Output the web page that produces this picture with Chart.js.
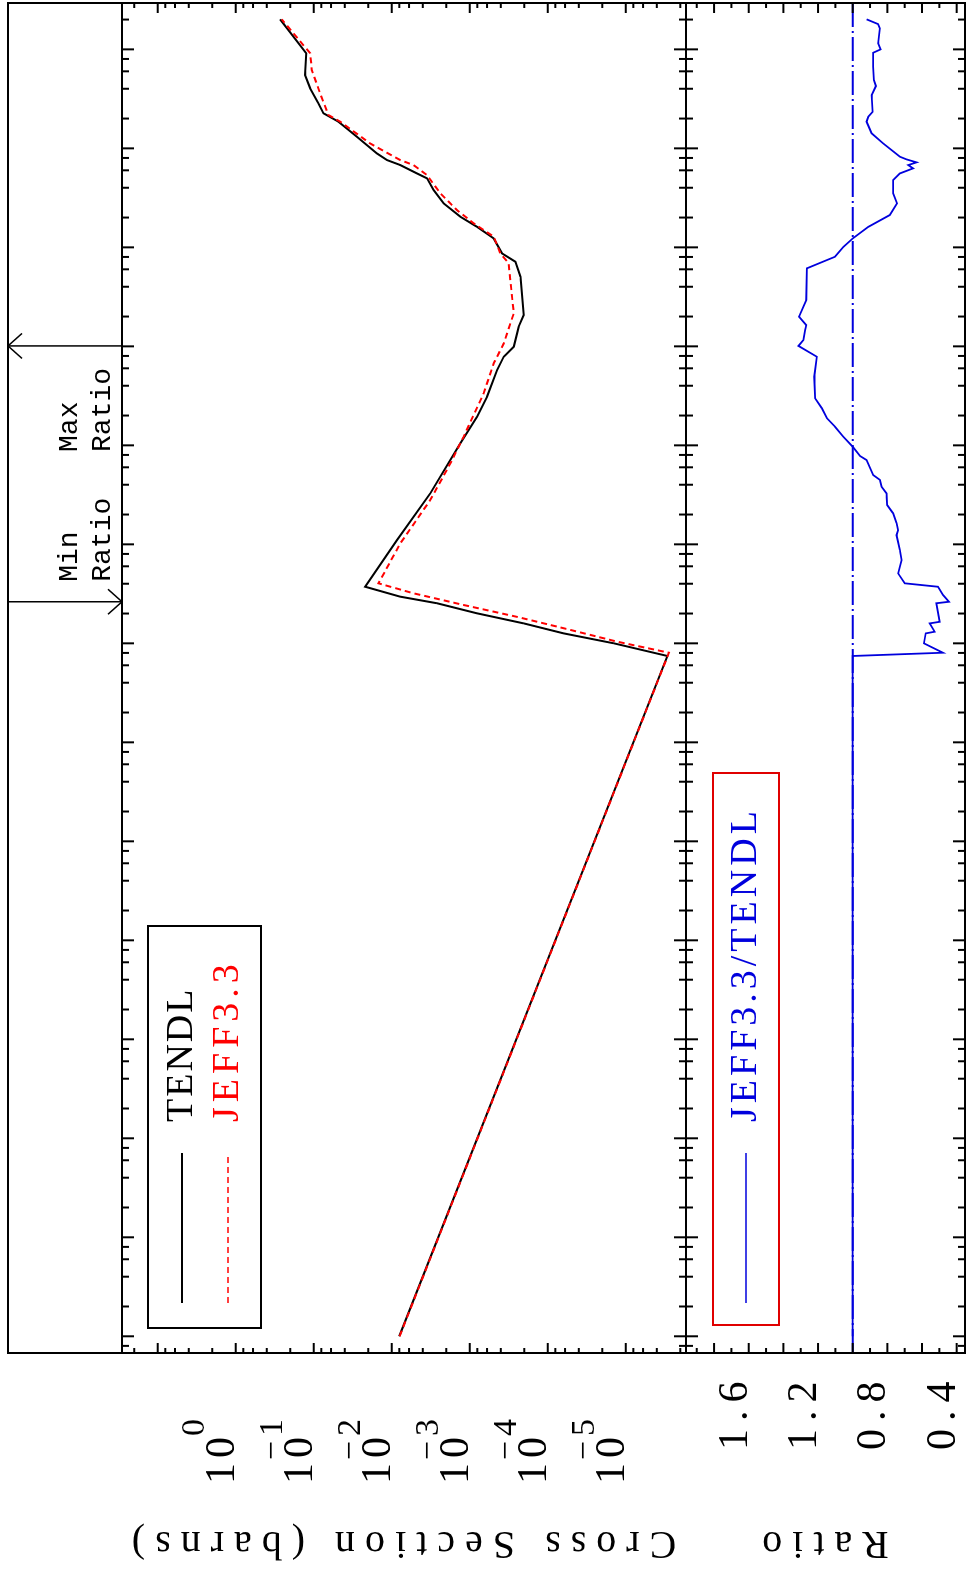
<!DOCTYPE html>
<html>
<head>
<meta charset="utf-8">
<script src="https://cdn.jsdelivr.net/npm/chart.js@4.4.1/dist/chart.umd.min.js"></script>
<style>
html, body { margin: 0; padding: 0; background: #fff; overflow: hidden; }
/* the plot is drawn landscape and turned a quarter turn, like the original page */
#wrap { position: absolute; left: 0; top: 0; width: 1573px; height: 968px;
        transform-origin: 0 0; transform: translate(0, 1573px) rotate(-90deg); }
</style>
</head>
<body>
<div id="wrap"><canvas id="chart" width="1573" height="968"></canvas></div>
<script>
// energies in eV, cross sections in barns
const tendlEnergy = [1e-5, 74.5, 100, 126, 159, 201, 254, 296, 373, 1.10e3, 3.27e3, 1.05e4, 1.95e4, 3.10e4,
    5.77e4, 7.85e4, 9.91e4, 1.58e5, 2.07e5, 5.05e5, 7.16e5, 8.69e5, 1.23e6, 1.61e6, 2.04e6, 2.78e6,
    3.79e6, 4.98e6, 5.58e6, 6.78e6, 7.62e6, 8.89e6, 1.31e7, 1.86e7, 2.26e7, 2.85e7, 4.03e7, 5.50e7,
    9.12e7, 2.01e8];
const tendlXs = [8.0e-3, 2.93e-6, 1.42e-5, 6.23e-5, 2.03e-4, 8.05e-4, 2.63e-3, 7.78e-3, 2.19e-2, 8.58e-3,
    3.21e-3, 1.32e-3, 8.05e-4, 6.00e-4, 4.46e-4, 3.67e-4, 2.73e-4, 2.36e-4, 2.03e-4, 2.24e-4, 2.60e-4,
    3.85e-4, 4.93e-4, 8.05e-4, 1.32e-3, 2.16e-3, 2.90e-3, 3.53e-3, 4.75e-3, 7.78e-3, 1.15e-2, 1.55e-2,
    2.80e-2, 4.82e-2, 7.50e-2, 8.71e-2, 0.111, 0.129, 0.125, 0.270];

const jeffEnergy = [1e-5, 80.4, 104, 142, 185, 244, 320, 404, 1.02e3, 2.80e3, 6.58e3, 1.22e4, 3.35e4,
    6.73e4, 1.07e5, 2.15e5, 6.89e5, 8.69e5, 1.28e6, 1.75e6, 2.38e6, 3.51e6, 5.37e6, 6.78e6, 7.62e6,
    1.12e7, 1.86e7, 2.17e7, 3.59e7, 6.18e7, 9.12e7, 2.01e8];
const jeffXs = [7.94e-3, 2.80e-6, 1.29e-5, 6.23e-5, 2.47e-4, 1.20e-3, 5.25e-3, 1.48e-2, 7.78e-3, 3.21e-3,
    1.77e-3, 1.20e-3, 6.64e-4, 4.93e-4, 3.67e-4, 2.73e-4, 3.17e-4, 4.05e-4, 4.93e-4, 8.91e-4, 1.46e-3,
    2.38e-3, 3.53e-3, 5.25e-3, 7.78e-3, 1.89e-2, 4.58e-2, 6.48e-2, 8.28e-2, 0.106, 0.111, 0.257];

const ratioEnergy = [1e-5, 74.5, 80.4, 100, 126, 131, 159, 165, 254, 263, 308, 373, 404, 509, 693, 875,
    1.24e3, 1.39e3, 1.63e3, 2.06e3, 2.49e3, 3.27e3, 3.82e3, 4.47e3, 5.01e3, 7.11e3, 7.80e3, 9.68e3,
    1.22e4, 1.54e4, 1.88e4, 2.37e4, 2.99e4, 4.93e4, 7.85e4, 1.01e5, 1.16e5, 1.46e5, 1.64e5, 1.99e5,
    2.94e5, 6.14e5, 8.04e5, 1.01e6, 1.23e6, 1.61e6, 2.12e6, 2.78e6, 3.51e6, 4.78e6, 5.58e6, 6.28e6,
    6.78e6, 7.22e6, 7.74e6, 8.23e6, 1.12e7, 1.42e7, 1.86e7, 2.09e7, 2.34e7, 3.45e7, 4.26e7, 4.90e7,
    6.67e7, 9.24e7, 1.0e8, 1.15e8, 1.63e8, 1.80e8, 2.01e8];
const ratioValues = [1.0, 1.0, 0.479, 0.589, 0.579, 0.527, 0.556, 0.498, 0.517, 0.445, 0.479, 0.508, 0.700,
    0.738, 0.718, 0.728, 0.747, 0.738, 0.747, 0.767, 0.801, 0.805, 0.833, 0.843, 0.882, 0.920, 0.958,
    1.0, 1.054, 1.102, 1.149, 1.178, 1.217, 1.222, 1.207, 1.313, 1.284, 1.274, 1.268, 1.310, 1.268,
    1.264, 1.102, 1.054, 1.0, 0.910, 0.786, 0.744, 0.767, 0.767, 0.728, 0.652, 0.680, 0.632, 0.690,
    0.728, 0.824, 0.891, 0.920, 0.910, 0.885, 0.891, 0.866, 0.878, 0.882, 0.882, 0.839, 0.853, 0.843,
    0.853, 0.920];

const unityEnergy = [6.78e-6, 2.94e8];
const unityRatio = [1, 1];

const xsLabelPowers = [0, -1, -2, -3, -4, -5];
const ratioLabels = [1.6, 1.2, 0.8, 0.4];
const legendXs = ['TENDL', 'JEFF3.3'];
const legendRatio = ['JEFF3.3/TENDL'];

const serif = '"Liberation Serif", "DejaVu Serif", serif';
const mono = '"Liberation Mono", "DejaVu Sans Mono", monospace';

function pairs(xs, ys) {
    return xs.map((x, i) => ({x: x, y: ys[i]}));
}

function line(ctx, x1, y1, x2, y2) {
    ctx.beginPath();
    ctx.moveTo(x1, y1);
    ctx.lineTo(x2, y2);
    ctx.stroke();
}

function text(ctx, s, x, y, font, color, align, spacing) {
    ctx.save();
    ctx.font = font;
    ctx.fillStyle = color;
    ctx.textAlign = align || 'left';
    ctx.textBaseline = 'middle';
    ctx.letterSpacing = (spacing || 0) + 'px';
    ctx.fillText(s, x, y);
    ctx.restore();
}

function logTicks(min, max) {
    const out = [];
    for (let n = -8; n <= 9; n++) {
        [1, 2, 4, 6, 8].forEach(m => {
            const v = m * Math.pow(10, n);
            if (v >= min && v <= max) out.push({v: v, major: m === 1});
        });
    }
    return out;
}

const framePlugin = {
    id: 'frame',
    afterDatasetsDraw(chart) {
        const ctx = chart.ctx;
        const area = chart.chartArea;
        const sx = chart.scales.x;
        const sy = chart.scales.y;
        const sr = chart.scales.yr;
        const stripTop = 8;
        const mid = Math.max(sy.top, sr.top);

        ctx.save();
        ctx.strokeStyle = '#000';
        ctx.lineWidth = 2;
        ctx.strokeRect(area.left, stripTop, area.right - area.left, area.bottom - stripTop);
        line(ctx, area.left, area.top, area.right, area.top);
        line(ctx, area.left, mid, area.right, mid);

        // energy ticks, pointing into both panels
        logTicks(sx.min, sx.max).forEach(t => {
            const p = sx.getPixelForValue(t.v);
            const len = t.major ? 12 : 7;
            line(ctx, p, area.top, p, area.top + len);
            line(ctx, p, mid - len, p, mid + len);
            line(ctx, p, area.bottom - len, p, area.bottom);
        });

        // cross section ticks
        logTicks(sy.min, sy.max).forEach(t => {
            const p = sy.getPixelForValue(t.v);
            const len = t.major ? 10 : 5;
            line(ctx, area.left, p, area.left + len, p);
            line(ctx, area.right - len, p, area.right, p);
        });

        // ratio ticks
        for (let k = 1; k <= 20; k++) {
            const v = k / 10;
            if (v < sr.min || v > sr.max) continue;
            const p = sr.getPixelForValue(v);
            const len = k % 2 === 0 ? 10 : 5;
            line(ctx, area.left, p, area.left + len, p);
            line(ctx, area.right - len, p, area.right, p);
        }

        // tick labels
        xsLabelPowers.forEach(n => {
            const p = sy.getPixelForValue(Math.pow(10, n));
            text(ctx, '10', 89, p - 13, '42px ' + serif, '#000', 'left', 5);
            text(ctx, String(Math.abs(n)), 137, p - 41, '34px ' + serif, '#000', 'left', 0);
            if (n < 0) text(ctx, '\u2212', 132, p - 41, '34px ' + serif, '#000', 'right', 0);
        });
        ratioLabels.forEach(v => {
            const p = sr.getPixelForValue(v);
            text(ctx, v.toFixed(1), 123, p - 13, '42px ' + serif, '#000', 'left', 8);
        });

        // axis titles
        [[sy, 'Cross Section (barns)'], [sr, 'Ratio']].forEach(([s, t]) => {
            ctx.save();
            ctx.translate(30, (s.top + s.bottom) / 2);
            ctx.rotate(-Math.PI / 2);
            text(ctx, t, 5, 0, '40px ' + serif, '#000', 'center', 10);
            ctx.restore();
        });

        // max / min ratio markers
        let iMax = 0, iMin = 0;
        ratioValues.forEach((r, i) => {
            if (r > ratioValues[iMax]) iMax = i;
            if (r < ratioValues[iMin]) iMin = i;
        });
        ctx.lineWidth = 1.5;
        const pMax = sx.getPixelForValue(ratioEnergy[iMax]);
        line(ctx, pMax, stripTop, pMax, area.top);
        line(ctx, pMax, stripTop, pMax - 12.5, stripTop + 14);
        line(ctx, pMax, stripTop, pMax + 12.5, stripTop + 14);
        const pMin = sx.getPixelForValue(ratioEnergy[iMin]);
        line(ctx, pMin, stripTop, pMin, area.top);
        line(ctx, pMin, area.top, pMin - 12.5, area.top - 14);
        line(ctx, pMin, area.top, pMin + 12.5, area.top - 14);
        ctx.font = '28px ' + mono;
        const wRatio = ctx.measureText('Ratio').width;
        text(ctx, 'Max', pMax - 22 - wRatio, 70, '28px ' + mono, '#000', 'left');
        text(ctx, 'Ratio', pMax - 22 - wRatio, 103, '28px ' + mono, '#000', 'left');
        text(ctx, 'Min', pMin + 20, 70, '28px ' + mono, '#000', 'left');
        text(ctx, 'Ratio', pMin + 20, 103, '28px ' + mono, '#000', 'left');

        // legends
        ctx.lineWidth = 2;
        ctx.strokeStyle = '#000';
        ctx.strokeRect(245, 148, 402, 113);
        line(ctx, 270, 182, 420, 182);
        text(ctx, legendXs[0], 451, 182, '38px ' + serif, '#000', 'left', 2);
        ctx.strokeStyle = '#ff0000';
        ctx.lineWidth = 1.6;
        ctx.setLineDash([6, 4]);
        line(ctx, 270, 228, 420, 228);
        ctx.setLineDash([]);
        text(ctx, legendXs[1], 451, 228, '38px ' + serif, '#ff0000', 'left', 5);

        ctx.lineWidth = 2;
        ctx.strokeStyle = '#e00000';
        ctx.strokeRect(248, 713, 552, 66);
        ctx.strokeStyle = '#0000dd';
        ctx.lineWidth = 1.6;
        line(ctx, 270, 746, 420, 746);
        text(ctx, legendRatio[0], 451, 746, '38px ' + serif, '#0000dd', 'left', 4);
        ctx.restore();
    }
};

new Chart(document.getElementById('chart'), {
    type: 'line',
    data: {
        datasets: [
            {
                label: 'TENDL',
                data: pairs(tendlEnergy, tendlXs),
                xAxisID: 'x', yAxisID: 'y', order: 1,
                borderColor: '#000000', borderWidth: 2,
                pointRadius: 0, tension: 0, fill: false
            },
            {
                label: 'JEFF3.3',
                data: pairs(jeffEnergy, jeffXs),
                xAxisID: 'x', yAxisID: 'y', order: 0,
                borderColor: '#ff0000', borderWidth: 2, borderDash: [6, 4],
                pointRadius: 0, tension: 0, fill: false
            },
            {
                label: 'unity',
                data: pairs(unityEnergy, unityRatio),
                xAxisID: 'x', yAxisID: 'yr', order: 1,
                borderColor: '#0000dd', borderWidth: 2, borderDash: [24, 4, 2, 4],
                pointRadius: 0, fill: false
            },
            {
                label: 'JEFF3.3/TENDL',
                data: pairs(ratioEnergy, ratioValues),
                xAxisID: 'x', yAxisID: 'yr', order: 0,
                borderColor: '#0000dd', borderWidth: 1.8,
                pointRadius: 0, tension: 0, fill: false
            }
        ]
    },
    options: {
        responsive: false,
        animation: false,
        devicePixelRatio: 1,
        events: [],
        layout: {padding: {top: 122, right: 3, bottom: 3, left: 0}},
        plugins: {legend: {display: false}, tooltip: {enabled: false}},
        scales: {
            x: {
                type: 'logarithmic', min: 6.78e-6, max: 2.94e8,
                display: false
            },
            yr: {
                type: 'linear', min: 0.352, max: 1.962,
                position: 'left', stack: 'panels', stackWeight: 279,
                ticks: {display: false}, grid: {display: false}, border: {display: false},
                afterFit: s => { s.width = 220; }
            },
            y: {
                type: 'logarithmic', min: 1.69e-6, max: 28.7,
                position: 'left', stack: 'panels', stackWeight: 564,
                ticks: {display: false}, grid: {display: false}, border: {display: false},
                afterFit: s => { s.width = 220; }
            }
        }
    },
    plugins: [framePlugin]
});
</script>
</body>
</html>
